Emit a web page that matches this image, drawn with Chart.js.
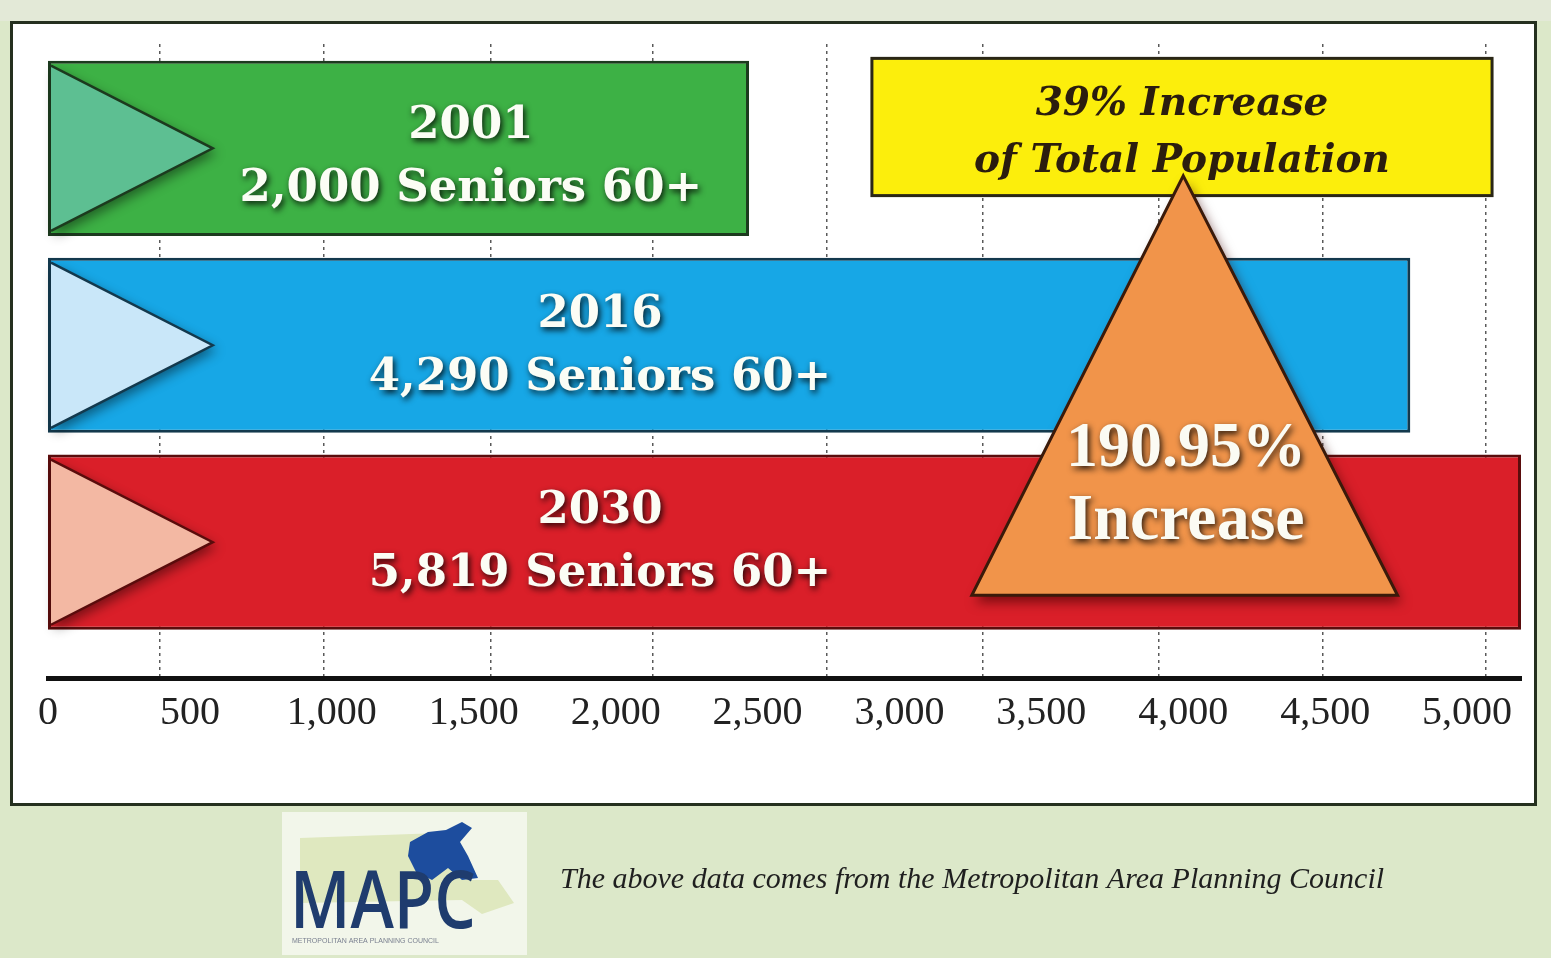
<!DOCTYPE html>
<html>
<head>
<meta charset="utf-8">
<script src="https://cdn.jsdelivr.net/npm/chart.js@4.4.1/dist/chart.umd.min.js"></script>
<style>
html,body{margin:0;padding:0;background:#dce8c9;}
canvas{display:block;}
</style>
</head>
<body>
<canvas id="c" width="1551" height="958"></canvas>
<script>
// ---- data ----
const years = ['2001', '2016', '2030'];
const seniors = [2000, 4290, 5819];            // printed counts of seniors 60+
const barLengths = [2470, 4800, 5190];         // bar ends as read against the axis
const tickValues = [0, 500, 1000, 1500, 2000, 2500, 3000, 3500, 4000, 4500, 5000];
const gridValues = [395, 970, 1560, 2130, 2745, 3295, 3915, 4490, 5065];
const totalIncreaseText = ['39% Increase', 'of Total Population'];
const seniorIncreaseText = ['190.95%', 'Increase'];
const sourceText = 'The above data comes from the Metropolitan Area Planning Council';

// ---- styles ----
const barColors = ['#3db145', '#17a7e6', '#da1f29'];
const barBorders = ['#1c3a1e', '#13394d', '#5a0c0c'];
const arrowColors = ['#5dbf92', '#c9e7f9', '#f3b8a3'];
const X_MAX = 5190;

function shadowText(c, t, x, y, font, color, sh) {
  c.save();
  c.font = font;
  c.textAlign = 'center';
  c.textBaseline = 'middle';
  if (sh) {
    c.shadowColor = 'rgba(0,0,0,0.85)';
    c.shadowBlur = 6;
    c.shadowOffsetX = 2;
    c.shadowOffsetY = 3;
  }
  c.fillStyle = color;
  c.fillText(t, x, y);
  c.restore();
}

const decor = {
  id: 'decor',
  beforeDraw(chart) {
    const c = chart.ctx;
    c.save();
    c.fillStyle = '#dce8c9';
    c.fillRect(0, 0, chart.width, chart.height);
    c.fillStyle = '#e3e9d7';
    c.fillRect(0, 0, chart.width, 21);
    c.fillStyle = '#ffffff';
    c.fillRect(11, 22, 1525, 783);
    c.lineWidth = 3;
    c.strokeStyle = '#25301f';
    c.strokeRect(11.5, 22.5, 1524, 782);
    c.restore();
  },
  afterDatasetsDraw(chart) {
    const c = chart.ctx, xs = chart.scales.x, ys = chart.scales.y;
    const meta = chart.getDatasetMeta(0);
    const labelCenters = [1490, 1945, 1945];
    const lineOffsets = [[-22, 41], [-30, 33], [-31, 32]];
    meta.data.forEach((el, i) => {
      const p = el.getProps(['x', 'y', 'base', 'height'], true);
      const top = p.y - p.height / 2, bot = p.y + p.height / 2;
      const tipX = p.base + p.height * 0.94;
      c.save();
      c.beginPath();
      c.moveTo(p.base + 3, top + 5);
      c.lineTo(tipX, p.y);
      c.lineTo(p.base + 3, bot - 5);
      c.closePath();
      c.shadowColor = 'rgba(0,0,0,0.45)';
      c.shadowBlur = 12;
      c.shadowOffsetX = 4;
      c.shadowOffsetY = 5;
      c.fillStyle = arrowColors[i];
      c.fill();
      c.shadowColor = 'transparent';
      c.lineWidth = 2.5;
      c.strokeStyle = barBorders[i];
      c.beginPath();
      c.moveTo(p.base + 3, top + 5);
      c.lineTo(tipX, p.y);
      c.lineTo(p.base + 3, bot - 5);
      c.stroke();
      c.restore();
      const cx = xs.getPixelForValue(labelCenters[i]);
      shadowText(c, years[i], cx, p.y + lineOffsets[i][0], 'bold 45px "DejaVu Serif"', '#fbfdf5', true);
      shadowText(c, seniors[i].toLocaleString('en-US') + ' Seniors 60+', cx, p.y + lineOffsets[i][1],
        'bold 45px "DejaVu Serif"', '#fbfdf5', true);
    });

    // yellow annotation box
    const bx1 = xs.getPixelForValue(2903), bx2 = xs.getPixelForValue(5088);
    const by1 = ys.getPixelForValue(-0.457), by2 = ys.getPixelForValue(0.24);
    c.save();
    c.fillStyle = '#fcee0c';
    c.fillRect(bx1, by1, bx2 - bx1, by2 - by1);
    c.lineWidth = 3;
    c.strokeStyle = '#2a2616';
    c.strokeRect(bx1, by1, bx2 - bx1, by2 - by1);
    c.restore();
    const bcx = (bx1 + bx2) / 2;
    shadowText(c, totalIncreaseText[0], bcx, ys.getPixelForValue(-0.22), 'italic bold 39px "DejaVu Serif"', '#2b1d0e', false);
    shadowText(c, totalIncreaseText[1], bcx, ys.getPixelForValue(0.07), 'italic bold 39px "DejaVu Serif"', '#2b1d0e', false);

    // orange triangle
    const ax = xs.getPixelForValue(4000), ay = ys.getPixelForValue(0.14);
    const lx = xs.getPixelForValue(3255), rx = xs.getPixelForValue(4755), byy = ys.getPixelForValue(2.27);
    c.save();
    c.beginPath();
    c.moveTo(ax, ay);
    c.lineTo(rx, byy);
    c.lineTo(lx, byy);
    c.closePath();
    c.shadowColor = 'rgba(60,0,0,0.6)';
    c.shadowBlur = 12;
    c.shadowOffsetX = 4;
    c.shadowOffsetY = 7;
    c.fillStyle = '#f1944a';
    c.fill();
    c.shadowColor = 'transparent';
    c.lineWidth = 3;
    c.lineJoin = 'miter';
    c.strokeStyle = '#3a1a0a';
    c.stroke();
    c.restore();
    const tcx = xs.getPixelForValue(4010);
    shadowText(c, seniorIncreaseText[0], tcx, ys.getPixelForValue(1.53), 'bold 64px "Liberation Serif"', '#fbfbf3', true);
    shadowText(c, seniorIncreaseText[1], tcx, ys.getPixelForValue(1.895), 'bold 66px "Liberation Serif"', '#fbfbf3', true);
  },
  afterDraw(chart) {
    const c = chart.ctx;
    c.save();
    // logo box
    c.fillStyle = '#f2f6ea';
    c.fillRect(282, 812, 245, 143);
    c.fillStyle = '#dfe8bf';
    c.beginPath();
    c.moveTo(300, 838); c.lineTo(440, 833); c.lineTo(456, 852); c.lineTo(470, 880);
    c.lineTo(498, 880); c.lineTo(514, 903); c.lineTo(482, 914); c.lineTo(462, 900);
    c.lineTo(300, 903); c.closePath(); c.fill();
    c.fillStyle = '#1d4d9e';
    c.beginPath();
    c.moveTo(410, 842); c.lineTo(428, 832); c.lineTo(446, 830); c.lineTo(462, 822);
    c.lineTo(472, 828); c.lineTo(460, 842); c.lineTo(468, 856); c.lineTo(478, 878);
    c.lineTo(462, 880); c.lineTo(448, 868); c.lineTo(432, 880); c.lineTo(416, 872);
    c.lineTo(408, 856); c.closePath(); c.fill();
    c.translate(290, 928);
    c.scale(0.82, 1);
    c.font = '600 80px "Open Sans"';
    c.fillStyle = '#1f3c6e';
    c.textBaseline = 'alphabetic';
    c.fillText('MAPC', 0, 0);
    c.restore();
    c.save();
    c.font = '7px "Liberation Sans"';
    c.fillStyle = '#7a8090';
    c.fillText('METROPOLITAN AREA PLANNING COUNCIL', 292, 943);
    c.restore();
    // source note
    c.save();
    let fs = 32;
    c.font = 'italic ' + fs + 'px "Liberation Serif"';
    while (c.measureText(sourceText).width > 825 && fs > 10) {
      fs -= 0.5;
      c.font = 'italic ' + fs + 'px "Liberation Serif"';
    }
    c.fillStyle = '#1f1f1f';
    c.textBaseline = 'middle';
    c.fillText(sourceText, 560, 880);
    c.restore();
  }
};

new Chart(document.getElementById('c'), {
  type: 'bar',
  data: {
    datasets: [{
      data: years.map((y, i) => ({ x: barLengths[i], y: i })),
      backgroundColor: barColors,
      borderColor: barBorders,
      borderWidth: 3,
      borderSkipped: false,
      barPercentage: 0.89,
      categoryPercentage: 1
    }]
  },
  options: {
    indexAxis: 'y',
    responsive: false,
    animation: false,
    layout: { padding: { left: 48, right: 30, top: 44, bottom: 0 } },
    plugins: { legend: { display: false }, tooltip: { enabled: false }, title: { display: false } },
    scales: {
      x: {
        type: 'linear', position: 'bottom', min: 0, max: X_MAX, offset: false,
        grid: { display: false, drawTicks: false },
        border: { display: true, color: '#111111', width: 5 },
        afterBuildTicks: s => { s.ticks = tickValues.map(v => ({ value: v })); },
        ticks: {
          font: { family: '"Liberation Serif", serif', size: 40 },
          color: '#222222', padding: 11, maxRotation: 0, autoSkip: false,
          callback: v => Number(v).toLocaleString('en-US')
        },
        afterFit: s => { s.height = 280; }
      },
      x2: {
        type: 'linear', position: 'top', min: 0, max: X_MAX, offset: false,
        grid: { display: true, color: '#5a5a5a', lineWidth: 1.5, drawTicks: false },
        border: { display: false, dash: [3, 4] },
        ticks: { display: false },
        afterBuildTicks: s => { s.ticks = gridValues.map(v => ({ value: v })); },
        afterFit: s => { s.height = 0; }
      },
      y: {
        type: 'linear', reverse: true, min: -0.53, max: 2.69, display: false, offset: false,
        afterBuildTicks: s => { s.ticks = [0, 1, 2].map(v => ({ value: v })); }
      }
    }
  },
  plugins: [decor]
});
</script>
</body>
</html>
